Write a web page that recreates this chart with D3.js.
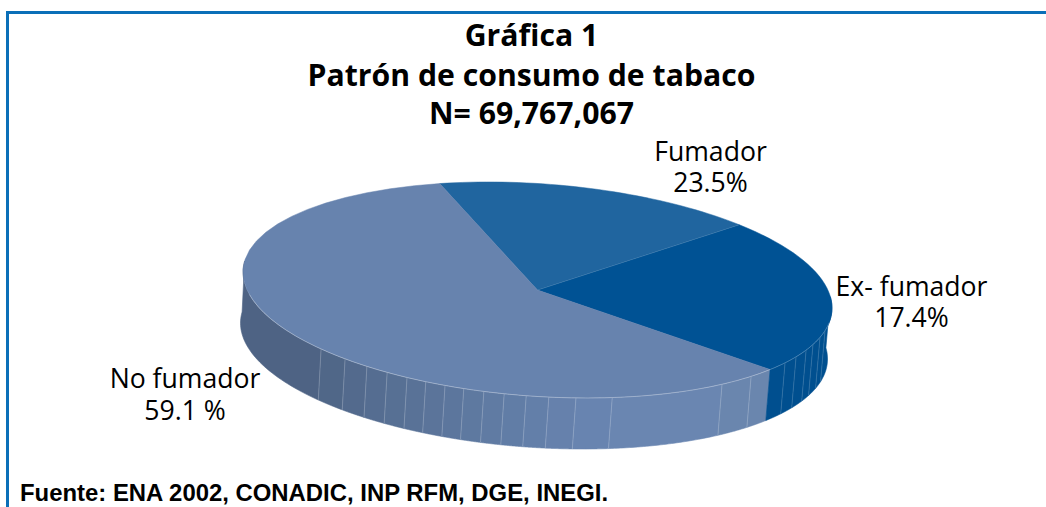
<!DOCTYPE html>
<html><head><meta charset="utf-8">
<script src="https://cdn.jsdelivr.net/npm/d3@7"></script>
<style>html,body{margin:0;padding:0;background:#fff}svg{display:block}</style></head>
<body><svg id="c" width="1046" height="507"></svg>
<script>
const titleLines = ["Gráfica 1", "Patrón de consumo de tabaco", "N= 69,767,067"];
const source = "Fuente: ENA 2002, CONADIC, INP RFM, DGE, INEGI.";
// Slice sizes as drawn, clockwise from the back edge
const sliceNames = ["Fumador", "Ex- fumador", "No fumador"];
const sliceValues = [17.4, 23.5, 59.1];
const sliceColors = ["#20659f", "#005294", "#6783ae"];
// Labels as printed on the chart
const labelLine1 = ["Fumador", "Ex- fumador", "No fumador"];
const labelLine2 = ["23.5%", "17.4%", "59.1 %"];
// Facet seams on the pie wall, in degrees around the ellipse
const seams = [137.3,130.8,125.4,120.7,116.3,112.3,108.3,104.5,100.5,96.5,92.2,87.8,82.5,75.3,51.2,43.5,32.8,28.6,24.2,20.7,16.4,12.5];

const svg = d3.select("#c");
const rad = d => d * Math.PI / 180;
const startDeg = -109.4;
const topE = {cx:537.5, cy:290, a:294.5, b:106.5, s:18};
const botE = {cx:534, cy:341, a:293.5, b:106.5, s:18};
const pt = (e,t) => [e.cx + e.a*Math.cos(t), e.cy + e.b*Math.sin(t) + e.s*Math.cos(t)];
const line = d3.line();
const arcPts = (e,t0,t1) => d3.range(0,41).map(i => pt(e, t0 + (t1-t0)*i/40));

const pie = d3.pie().sort(null).value(d=>d).startAngle(rad(startDeg)).endAngle(rad(startDeg)+2*Math.PI);
const arcs = pie(sliceValues);

// frame
svg.append("path").attr("d","M7.5 507V12.5H1046").attr("fill","none").attr("stroke","#0b6fb8").attr("stroke-width",3);

// wall
const wallShade = d3.scaleLinear().domain([185,137,100,75,45]).range(["#4d6282","#4f6586","#5f7aa2","#6a86b3","#6a86ae"]).clamp(true);
const exBoundary = arcs[1].endAngle;
const exDeg = exBoundary*180/Math.PI;
const edges = [186, ...seams.filter(d=>d>exDeg)];
const walls = [];
edges.forEach((d,i)=>{ const nx = i<edges.length-1?edges[i+1]:exDeg; walls.push({a:d,b:nx,c:wallShade((d+nx)/2)}); });
const rightEdges = [exDeg, ...seams.filter(d=>d<exDeg), -6];
for(let i=0;i<rightEdges.length-1;i++) walls.push({a:rightEdges[i],b:rightEdges[i+1],c:"#004f8f"});
svg.append("g").selectAll("path").data(walls).join("path")
  .attr("d",d=>line([...arcPts(topE,rad(d.a),rad(d.b)),...arcPts(botE,rad(d.b),rad(d.a))])+"Z")
  .attr("fill",d=>d.c).attr("stroke",d=>d.c).attr("stroke-width",0.6);
svg.append("g").selectAll("line").data(seams).join("line")
  .attr("x1",d=>pt(topE,rad(d))[0]).attr("y1",d=>pt(topE,rad(d))[1])
  .attr("x2",d=>pt(botE,rad(d))[0]).attr("y2",d=>pt(botE,rad(d))[1])
  .attr("stroke","#ffffff").attr("stroke-opacity",d=>d<exDeg?0.2:0.25).attr("stroke-width",0.8);

// top face
svg.append("g").selectAll("path").data(arcs).join("path")
  .attr("d",d=>line([[topE.cx,topE.cy],...arcPts(topE,d.startAngle,d.endAngle)])+"Z")
  .attr("fill",(d,i)=>sliceColors[i]).attr("stroke",(d,i)=>sliceColors[i]).attr("stroke-width",0.5);
// seam highlights
svg.append("path").attr("d",line([[topE.cx,topE.cy],pt(topE,arcs[0].endAngle)]))
  .attr("stroke","#ffffff").attr("stroke-opacity",0.2).attr("stroke-width",0.8).attr("fill","none");
svg.append("path").attr("d",line(arcPts(topE,rad(8),exBoundary))).attr("stroke","#9fc0dc").attr("stroke-opacity",0.45).attr("stroke-width",0.8).attr("fill","none");
svg.append("path").attr("d",line(arcPts(topE,exBoundary,rad(168)))).attr("stroke","#ffffff").attr("stroke-opacity",0.4).attr("stroke-width",0.8).attr("fill","none");

// text
const sans = "'Open Sans','Noto Sans',sans-serif";
svg.append("g").selectAll("text").data(titleLines).join("text")
  .attr("x",531.5).attr("y",(d,i)=>[46,86,124][i]).attr("text-anchor","middle")
  .attr("font-family",sans).attr("font-weight",700).attr("font-size",30.2).attr("fill","#000").text(d=>d);
const labelPos = [[710.5,161,192],[911.5,296,327],[185,388,420]];
labelLine1.forEach((t,i)=>{
  const p = labelPos[i];
  const g = svg.append("g").attr("font-family",sans).attr("font-size",26.6).attr("fill","#000").attr("text-anchor","middle");
  g.append("text").attr("x",p[0]).attr("y",p[1]).text(t);
  g.append("text").attr("x",p[0]).attr("y",p[2]).text(labelLine2[i]);
});
svg.append("text").attr("x",20).attr("y",501).attr("font-family","'Liberation Sans',Arial,sans-serif")
  .attr("font-weight",700).attr("font-size",23.9).attr("fill","#000").text(source);
</script></body></html>
